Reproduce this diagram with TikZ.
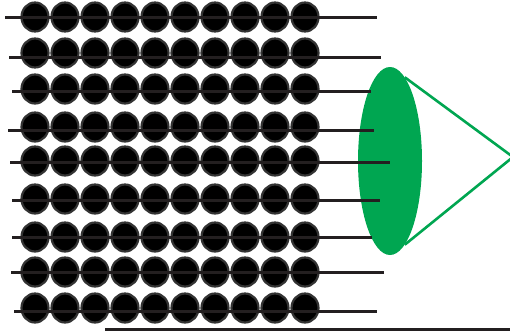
\documentclass[tikz,border=0pt]{standalone}
\usetikzlibrary{shapes.geometric}
\definecolor{lensgreen}{HTML}{00A651}
\definecolor{rod}{HTML}{231F20}
\definecolor{rim}{HTML}{333333}
\begin{document}
\begin{tikzpicture}[x=1pt,y=-1pt,
  bead/.style={ellipse,fill=black,draw=rim,line width=2.2pt,minimum width=27pt,minimum height=29pt,inner sep=0pt},
  rodline/.style={draw=rod,line width=3pt},
  lensbody/.style={ellipse,fill=lensgreen,minimum width=64pt,minimum height=188pt,inner sep=0pt},
  ray/.style={draw=lensgreen,line width=2.6pt}]
\useasboundingbox (0,0) rectangle (510,332);
\node[lensbody] (lens) at (390,161) {};
\coordinate (apex) at (513,157);
\draw[ray] (lens.80) -- (apex);
\draw[ray] (lens.-80) -- (apex);
\foreach \r/\cy/\ly/\xs/\xe in {1/17/17/5/377, 2/53/57/9/381, 3/89/91/12/371, 4/127/130/8/374, 5/161/162/10/390, 6/199/200/12/380, 7/237/237/12/372, 8/272/272/11/384, 9/308/311/14/377}{
  \foreach \c in {0,...,9}{
    \node[bead] (b\r-\c) at ({35+30*\c},\cy) {};
  }
  \coordinate (s\r) at (\xs,\ly);
  \coordinate (e\r) at (\xe,\ly);
  \draw[rodline] (s\r) -- (e\r);
}
\coordinate (base1) at (105,329);
\coordinate (base2) at (510,329);
\draw[rodline] (base1) -- (base2);
\end{tikzpicture}
\end{document}
